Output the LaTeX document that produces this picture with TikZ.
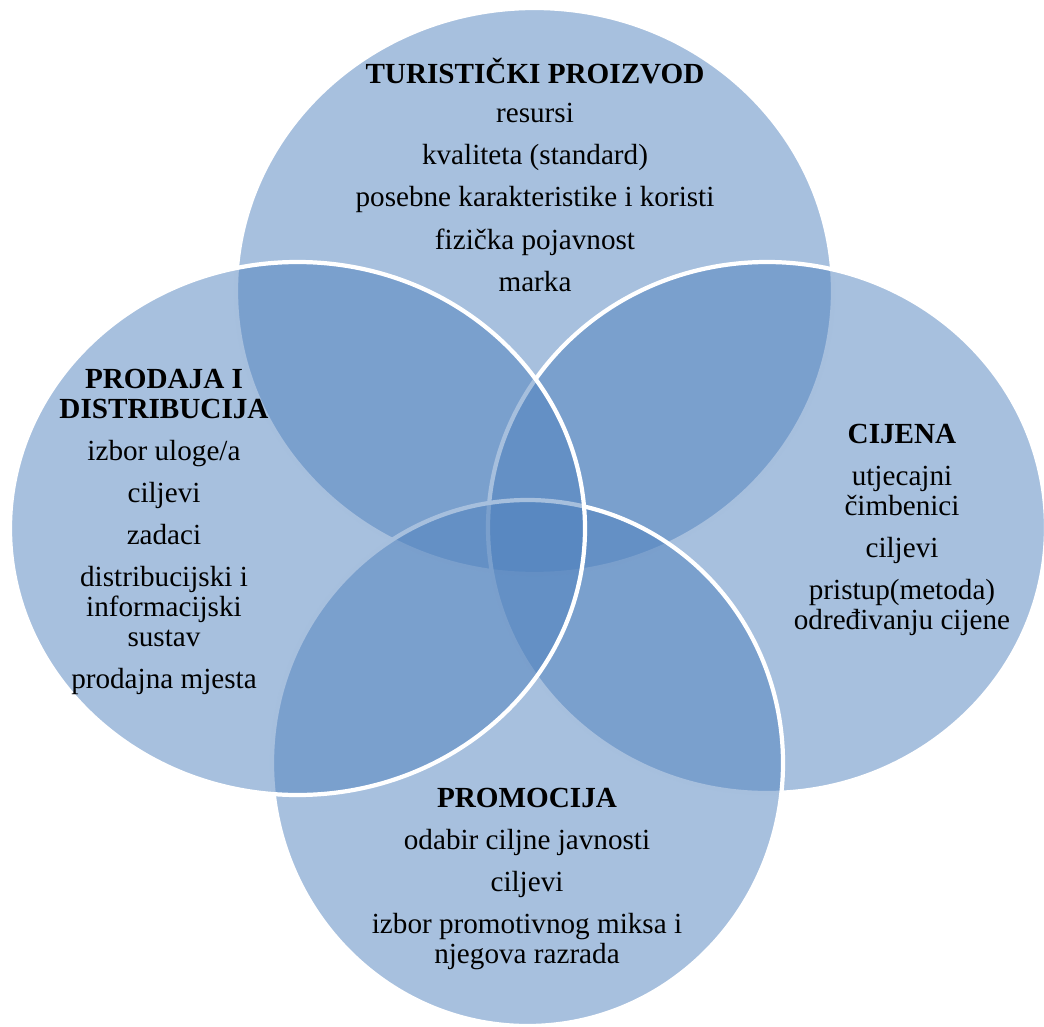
\documentclass[tikz,border=0pt]{standalone}
\usepackage{fontspec}
\setmainfont{Liberation Serif}
\usepackage{tikz}
\definecolor{vennblue}{RGB}{79,129,189}

\begin{document}
\begin{tikzpicture}[x=0.02cm, y=-0.02cm,
    venn/.style={draw=white, line width=2.4pt, fill=vennblue, fill opacity=0.5},
    txt/.style={align=center, inner sep=0pt, font=\fontsize{16.6}{17}\selectfont}]
  \useasboundingbox (0,0) rectangle (1044,1027);

  % circles, back to front
  \draw[venn] (534.5,291) ellipse [x radius=298.5, y radius=283];
  \draw[venn] (767,527.5) ellipse [x radius=279, y radius=265.5];
  \draw[venn] (527.5,763) ellipse [x radius=255.5, y radius=263];
  \draw[venn] (297.5,528.5) ellipse [x radius=287.5, y radius=266.5];

  % texts
  \node[txt] (product) at (535,175) {\textbf{TURISTIČKI PROIZVOD}\\[5pt]
    resursi\\[7pt] kvaliteta (standard)\\[7pt] posebne karakteristike i koristi\\[7pt]
    fizička pojavnost\\[7pt] marka};
  \node[txt] (sales) at (164,532) {\textbf{PRODAJA I}\\ \textbf{DISTRIBUCIJA}\\[7pt]
    izbor uloge/a\\[7pt] ciljevi\\[7pt] zadaci\\[7pt]
    distribucijski i\\ informacijski\\ sustav\\[7pt] prodajna mjesta};
  \node[txt] (price) at (902,530) {\textbf{CIJENA}\\[7pt]
    utjecajni\\ čimbenici\\[7pt] ciljevi\\[7pt]
    pristup(metoda)\\ određivanju cijene};
  \node[txt] (promo) at (527,879) {\textbf{PROMOCIJA}\\[7pt]
    odabir ciljne javnosti\\[7pt] ciljevi\\[7pt]
    izbor promotivnog miksa i\\ njegova razrada};
\end{tikzpicture}
\end{document}
